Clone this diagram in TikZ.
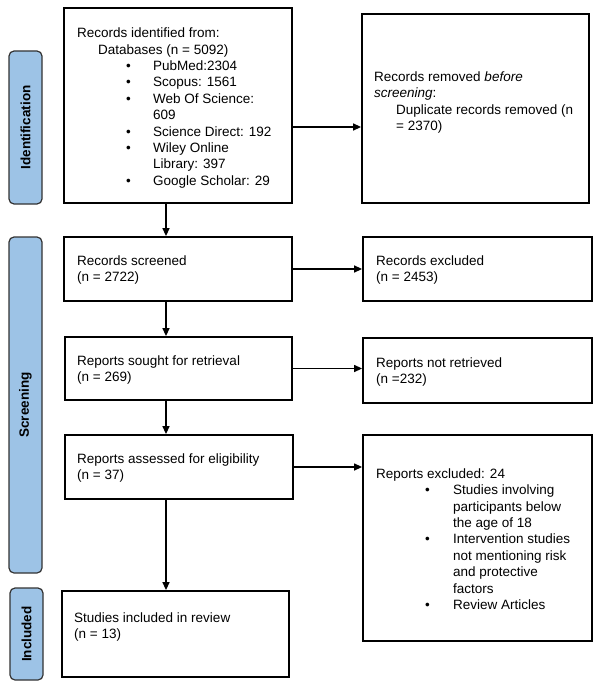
\documentclass[tikz,border=0pt]{standalone}
\usepackage{fontspec}
\setmainfont{Liberation Sans}
\usetikzlibrary{arrows.meta}
\definecolor{lblfill}{HTML}{9DC3E6}
\definecolor{lbldraw}{HTML}{333333}
\newcommand\blA[1]{\hspace*{49pt}\makebox[27pt][l]{\textbullet}#1}
\newcommand\blB[1]{\hspace*{49pt}\makebox[28pt][l]{\textbullet}#1}
\begin{document}
\begin{tikzpicture}[x=1pt,y=-1pt,
  box/.style={draw=black,line width=1.8pt,inner sep=0pt},
  txt/.style={anchor=west,align=left,inner sep=0pt,font=\fontsize{13.5}{16.4}\selectfont},
  phase/.style={draw=lbldraw,fill=lblfill,rounded corners=5pt,line width=1.2pt,rotate=90,inner sep=0pt,font=\fontsize{13.5}{16}\selectfont\bfseries},
  arr/.style={line width=1.3pt,-{Triangle[length=8pt,width=7pt]}}]
\useasboundingbox (0,0) rectangle (598,685);
% phase labels
\node[phase,minimum width=153pt,minimum height=33pt] (pid) at (25.5,127.5) {Identification};
\node[phase,minimum width=336pt,minimum height=33pt] (psc) at (25.5,405) {Screening};
\node[phase,minimum width=92pt,minimum height=33pt] (pin) at (26.5,634) {Included};
% boxes
\node[box,minimum width=228pt,minimum height=195pt] (b1) at (178,105.5) {};
\node[box,minimum width=227pt,minimum height=189pt] (rem) at (475.5,108.5) {};
\node[box,minimum width=228pt,minimum height=64pt] (scr) at (178,269) {};
\node[box,minimum width=229pt,minimum height=64pt] (exc) at (477.5,269) {};
\node[box,minimum width=227pt,minimum height=63pt] (sou) at (178.5,368.5) {};
\node[box,minimum width=229pt,minimum height=65pt] (nre) at (477.5,370.5) {};
\node[box,minimum width=228pt,minimum height=64pt] (ass) at (179,467) {};
\node[box,minimum width=229pt,minimum height=206pt] (rex) at (477.5,538) {};
\node[box,minimum width=227pt,minimum height=86pt] (inc) at (175.5,634) {};
% texts
\node[txt] (t1) at (77,108) {Records identified from:\\
\hspace*{21pt}Databases (n = 5092)\\
\blA{PubMed:2304}\\
\blA{Scopus: 1561}\\
\blA{Web Of Science:}\\
\hspace*{76pt}609\\
\blA{Science Direct: 192}\\
\blA{Wiley Online}\\
\hspace*{76pt}Library: 397\\
\blA{Google Scholar: 29}};
\node[txt] (t2) at (374,102.5) {Records removed \textit{before}\\
\textit{screening}:\\
\hspace*{22pt}Duplicate records removed (n\\
\hspace*{22pt}= 2370)};
\node[txt] (t3) at (77,270) {Records screened\\(n = 2722)};
\node[txt] (t4) at (376,270) {Records excluded\\(n = 2453)};
\node[txt] (t5) at (77,370) {Reports sought for retrieval\\(n = 269)};
\node[txt] (t6) at (376,372) {Reports not retrieved\\(n =232)};
\node[txt] (t7) at (77,468) {Reports assessed for eligibility\\(n = 37)};
\node[txt] (t8) at (376,539) {Reports excluded: 24\\
\blB{Studies involving}\\
\hspace*{77pt}participants below\\
\hspace*{77pt}the age of 18\\
\blB{Intervention studies}\\
\hspace*{77pt}not mentioning risk\\
\hspace*{77pt}and protective\\
\hspace*{77pt}factors\\
\blB{Review Articles}};
\node[txt] (t9) at (74,627) {Studies included in review\\(n = 13)};
% connectors
\coordinate (vx) at (166,0);
\coordinate (h1) at (0,127);
\draw[arr] (b1.south -| vx) -- (scr.north -| vx);
\draw[arr] (scr.south -| vx) -- (sou.north -| vx);
\draw[arr] (sou.south -| vx) -- (ass.north -| vx);
\draw[arr] (ass.south -| vx) -- (inc.north -| vx);
\draw[arr] (b1.east |- h1) -- (rem.west |- h1);
\draw[arr] (scr.east) -- (scr.east -| exc.west);
\draw[arr] (sou.east) -- (sou.east -| nre.west);
\draw[arr] (ass.east) -- (ass.east -| rex.west);
\end{tikzpicture}
\end{document}
